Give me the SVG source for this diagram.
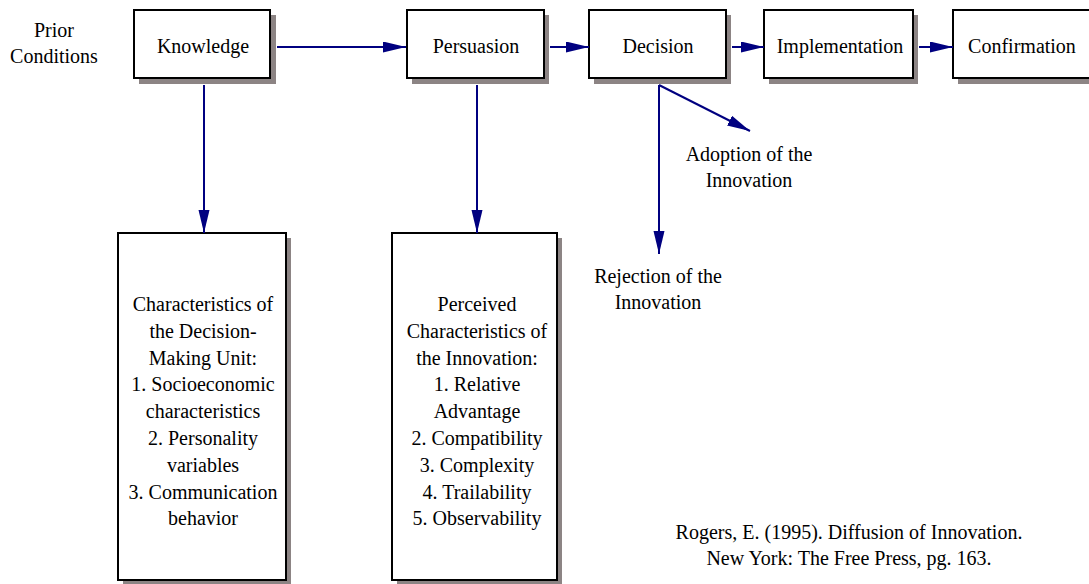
<svg xmlns="http://www.w3.org/2000/svg" width="1089" height="584" viewBox="0 0 1089 584" font-family="'Liberation Serif', serif" font-size="20">
<defs>
<marker id="ah" markerUnits="userSpaceOnUse" markerWidth="24" markerHeight="12" refX="23" refY="5.5" orient="auto">
<path d="M0,0 L23,5.5 L0,11 Z" fill="#000080"/>
</marker>
</defs>
<style>
text{font-family:'Liberation Serif',serif;font-size:20px;fill:#000;text-anchor:middle}
.box{fill:#fff;stroke:#000;stroke-width:2}
.shadow{fill:#8c8484}
.conn{stroke:#000080;stroke-width:2;fill:none;marker-end:url(#ah)}
</style>
<rect width="1089" height="584" fill="#fff"/>
<g id="prior" font-family="'Liberation Serif', serif">
<text x="54" y="37">Prior</text>
<text x="54" y="63">Conditions</text>
</g>
<g id="knowledge" font-family="'Liberation Serif', serif">
<rect class="shadow" x="139" y="15" width="137" height="69"/>
<rect class="box" x="134" y="10" width="136" height="68"/>
<text x="203" y="53">Knowledge</text>
</g>
<g id="persuasion" font-family="'Liberation Serif', serif">
<rect class="shadow" x="412" y="15" width="137" height="69"/>
<rect class="box" x="407" y="10" width="137" height="68"/>
<text x="476" y="53">Persuasion</text>
</g>
<g id="decision" font-family="'Liberation Serif', serif">
<rect class="shadow" x="594" y="15" width="137" height="69"/>
<rect class="box" x="589" y="10" width="137" height="68"/>
<text x="658" y="53">Decision</text>
</g>
<g id="implementation" font-family="'Liberation Serif', serif">
<rect class="shadow" x="769" y="15" width="149" height="69"/>
<rect class="box" x="764" y="10" width="149" height="68"/>
<text x="840" y="53">Implementation</text>
</g>
<g id="confirmation" font-family="'Liberation Serif', serif">
<rect class="shadow" x="958" y="15" width="140" height="69"/>
<rect class="box" x="953" y="10" width="140" height="68"/>
<text x="1022" y="53">Confirmation</text>
</g>
<g id="dmu" font-family="'Liberation Serif', serif">
<rect class="shadow" x="123" y="238" width="168" height="350"/>
<rect class="box" x="118" y="233" width="168" height="347"/>
<text x="203" y="311">Characteristics of</text>
<text x="203" y="338">the Decision-</text>
<text x="203" y="364.5">Making Unit:</text>
<text x="203" y="391">1. Socioeconomic</text>
<text x="203" y="418">characteristics</text>
<text x="203" y="445">2. Personality</text>
<text x="203" y="472">variables</text>
<text x="203" y="498.5">3. Communication</text>
<text x="203" y="525">behavior</text>
</g>
<g id="perceived" font-family="'Liberation Serif', serif">
<rect class="shadow" x="397" y="238" width="165" height="350"/>
<rect class="box" x="392" y="233" width="165" height="347"/>
<text x="477" y="311">Perceived</text>
<text x="477" y="338">Characteristics of</text>
<text x="477" y="364.5">the Innovation:</text>
<text x="477" y="391">1. Relative</text>
<text x="477" y="418">Advantage</text>
<text x="477" y="445">2. Compatibility</text>
<text x="477" y="472">3. Complexity</text>
<text x="477" y="498.5">4. Trailability</text>
<text x="477" y="525">5. Observability</text>
</g>
<g id="adoption" font-family="'Liberation Serif', serif">
<text x="749" y="161">Adoption of the</text>
<text x="749" y="187">Innovation</text>
</g>
<g id="rejection" font-family="'Liberation Serif', serif">
<text x="658" y="283">Rejection of the</text>
<text x="658" y="309">Innovation</text>
</g>
<g id="citation" font-family="'Liberation Serif', serif">
<text x="849" y="539">Rogers, E. (1995). Diffusion of Innovation.</text>
<text x="849" y="565">New York: The Free Press, pg. 163.</text>
</g>
<g id="connectors">
<line class="conn" x1="277" y1="47" x2="406" y2="47"/>
<line class="conn" x1="550" y1="47" x2="589" y2="47"/>
<line class="conn" x1="732" y1="47" x2="764" y2="47"/>
<line class="conn" x1="919" y1="47" x2="953" y2="47"/>
<line class="conn" x1="204" y1="85" x2="204" y2="233"/>
<line class="conn" x1="477" y1="85" x2="477" y2="233"/>
<line class="conn" x1="659" y1="85" x2="750" y2="131"/>
<line class="conn" x1="659" y1="85" x2="659" y2="254"/>
</g>
</svg>
